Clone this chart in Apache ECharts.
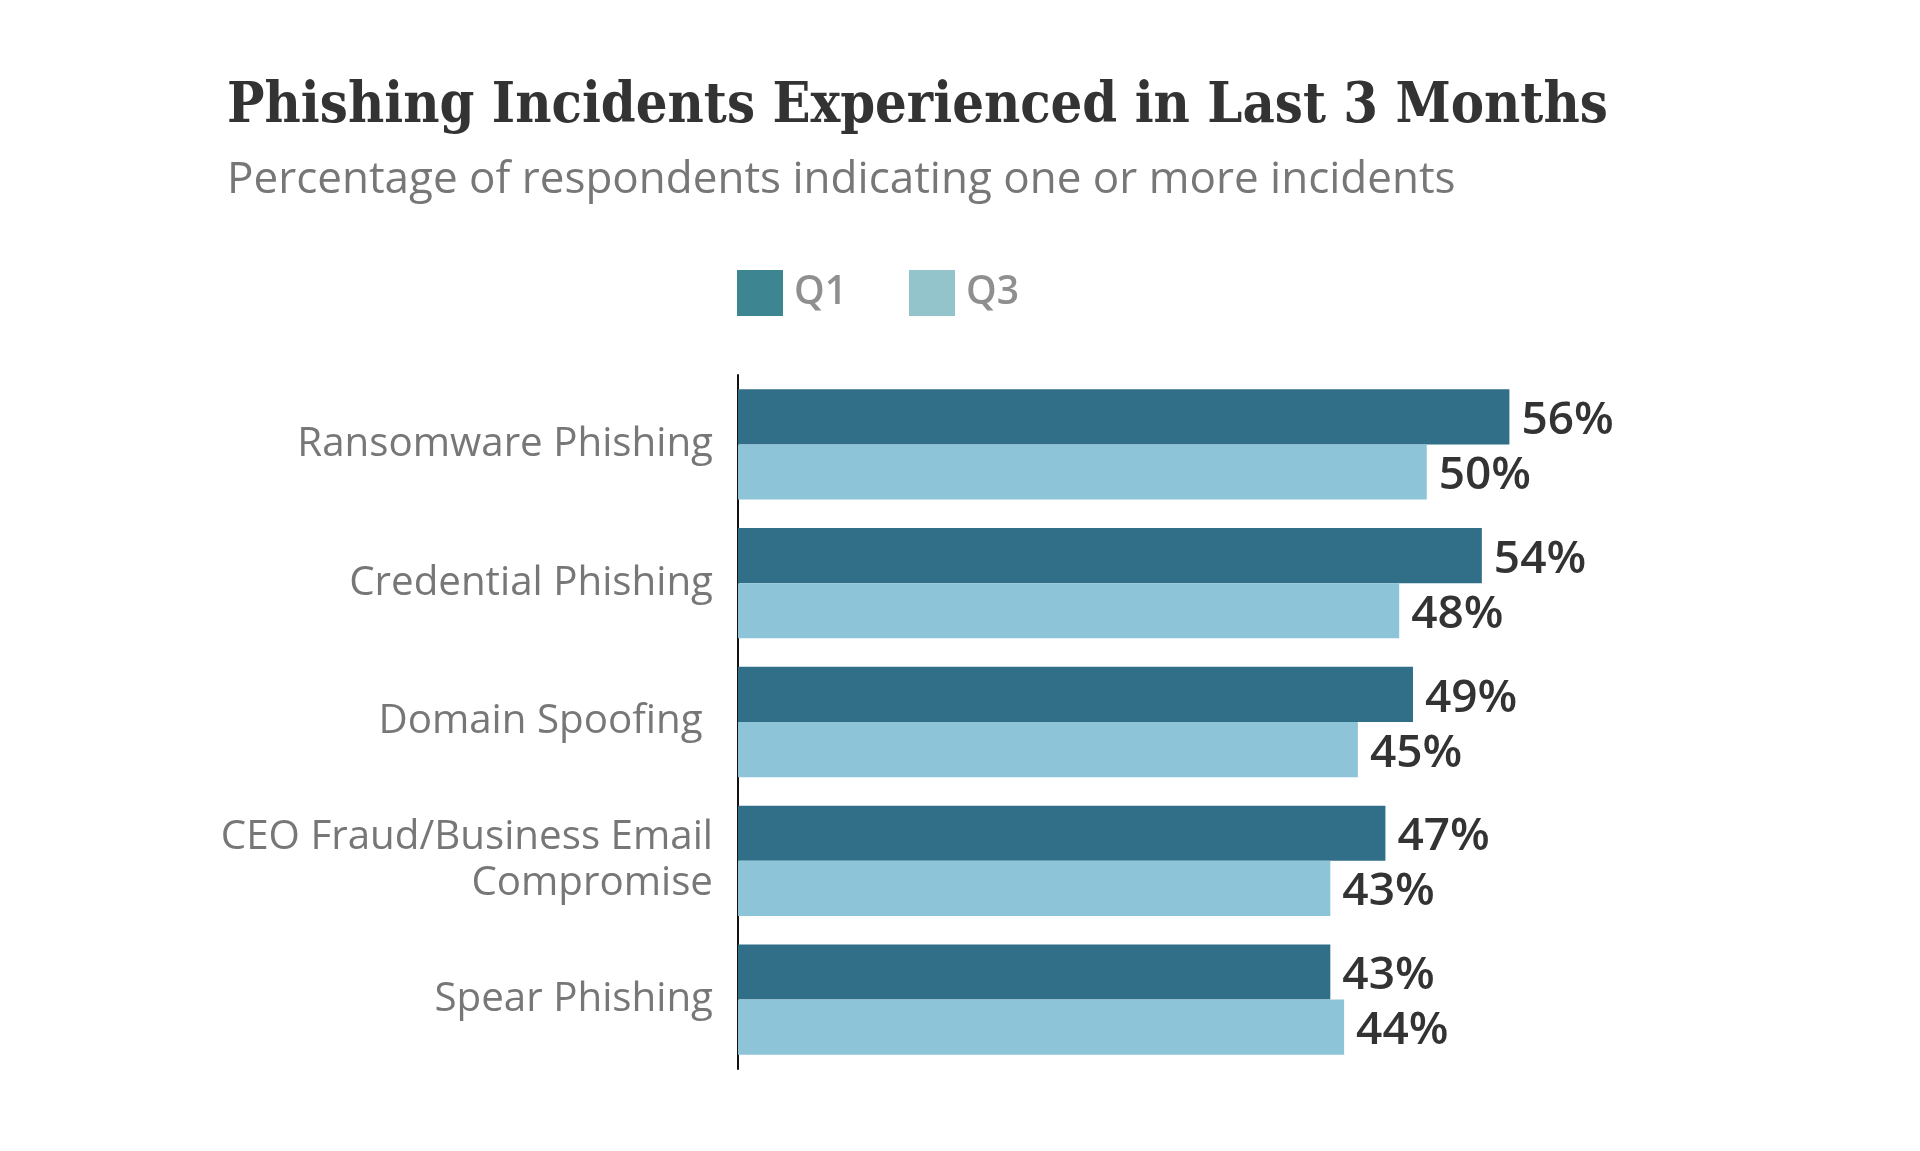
<!DOCTYPE html>
<html>
<head>
<meta charset="utf-8">
<script src="https://cdn.jsdelivr.net/npm/echarts@6/dist/echarts.min.js"></script>
<style>html,body{margin:0;padding:0;background:#fff;}#c{width:1920px;height:1151px;}</style>
</head>
<body>
<div id="c"></div>
<script>
const categories = ['Ransomware Phishing', 'Credential Phishing', 'Domain Spoofing ', 'CEO Fraud/Business Email\nCompromise', 'Spear Phishing'];
const q1Values = [56, 54, 49, 47, 43];
const q3Values = [50, 48, 45, 43, 44];
const seriesNames = ['Q1', 'Q3'];

const chart = echarts.init(document.getElementById('c'));
const valueLabel = {
  show: true, position: 'right', distance: 12, offset: [0, 4],
  formatter: '{c}%', fontFamily: 'Open Sans', fontWeight: 600, fontSize: 46, color: '#333'
};
chart.setOption({
  backgroundColor: '#fff',
  animation: false,
  title: [
    { text: 'Phishing Incidents Experienced in Last 3 Months', left: 222, top: 70,
      textStyle: { fontFamily: 'DejaVu Serif Condensed', fontWeight: 'bold', fontSize: 55.5, color: '#333', lineHeight: 66 } },
    { text: 'Percentage of respondents indicating one or more incidents', left: 222, top: 147,
      textStyle: { fontFamily: 'Open Sans', fontWeight: 'normal', fontSize: 44, color: '#777', lineHeight: 56 } }
  ],
  legend: {
    left: 732, top: 265, itemWidth: 46, itemHeight: 46, itemGap: 62, icon: 'rect',
    textStyle: { fontFamily: 'Open Sans', fontWeight: 600, fontSize: 39, color: '#8f8f8f', padding: [0, 0, 0, 6] },
    data: [
      { name: seriesNames[0], itemStyle: { color: '#3d8590' } },
      { name: seriesNames[1], itemStyle: { color: '#93c3cb' } }
    ]
  },
  grid: { left: 738, top: 375, width: 1102, height: 694 },
  xAxis: { type: 'value', min: 0, max: 80, show: false },
  yAxis: {
    type: 'category', inverse: true, data: categories,
    axisLine: { show: true, lineStyle: { color: '#111', width: 2 } },
    axisTick: { show: false },
    axisLabel: { margin: 25, fontFamily: 'Open Sans', fontSize: 40.3, color: '#777', lineHeight: 46, align: 'right' }
  },
  series: [
    { name: seriesNames[0], type: 'bar', data: q1Values, barGap: '0%', barCategoryGap: '20.5%',
      itemStyle: { color: '#306f87' }, label: valueLabel },
    { name: seriesNames[1], type: 'bar', data: q3Values, barGap: '0%', barCategoryGap: '20.5%',
      itemStyle: { color: '#8dc4d8' }, label: valueLabel }
  ]
});
</script>
</body>
</html>
